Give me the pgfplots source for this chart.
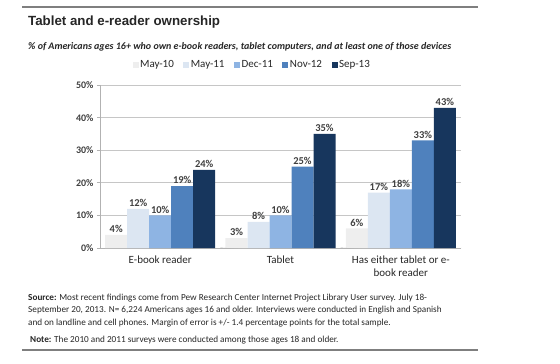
\documentclass[border=0pt]{standalone}
\usepackage{pgfplots}
\pgfplotsset{compat=1.18}
\usepackage{fontspec}
\setmainfont{Carlito}
\newfontfamily\arialfont{Liberation Sans}
\definecolor{c1}{HTML}{EEEEEE}
\definecolor{c2}{HTML}{DCE6F2}
\definecolor{c3}{HTML}{8EB4E3}
\definecolor{c4}{HTML}{4F81BD}
\definecolor{c5}{HTML}{17365D}
\definecolor{txt}{HTML}{404040}
\definecolor{rule}{HTML}{7F7F7F}
\begin{document}
\begin{tikzpicture}
\path[use as bounding box] (0,0) rectangle (560pt,-364pt);
\draw[rule, line width=1.2pt] (22pt,-7pt) -- (478pt,-7pt);
\draw[rule, line width=1.2pt] (22pt,-350pt) -- (478pt,-350pt);
\node[anchor=base west, inner sep=0, text=black!85] at (28pt,-25pt) {\arialfont\fontsize{13.3}{15}\selectfont\bfseries Tablet and e-reader ownership};
\node[anchor=base west, inner sep=0, text=black!85] at (28pt,-49pt) {\fontsize{10}{12}\selectfont\bfseries\itshape \% of Americans ages 16+ who own e-book readers, tablet computers, and at least one of those devices};
\begin{axis}[
  at={(100pt,-248pt)}, anchor=south west,
  scale only axis, width=361pt, height=163pt,
  ybar=0pt, bar width=22pt,
  xmin=-0.5, xmax=2.5, ymin=0, ymax=50,
  xtick={0,1,2},
  xticklabels={E-book reader, Tablet, {Has either tablet or e-\\book reader}},
  xticklabel style={align=center, font=\fontsize{11}{13.5}\selectfont, text=black!85, yshift=-1pt},
  ytick={0,10,20,30,40,50},
  yticklabel={\pgfmathprintnumber{\tick}\%},
  yticklabel style={font=\fontsize{10}{12}\selectfont\bfseries, text=txt},
  /pgf/number format/assume math mode=true,
  axis lines=left,
  axis line style={-, draw=gray!60, line width=0.8pt},
  ymajorgrids, grid style={draw=gray!45, line width=0.8pt},
  major tick length=3pt, tick align=outside,
  xtick style={draw=none},
  ytick style={draw=gray!60, line width=0.8pt},
  nodes near coords={\pgfmathprintnumber{\pgfplotspointmeta}\%},
  every node near coord/.append style={font=\fontsize{10.5}{12}\selectfont\bfseries, text=txt, inner sep=2pt},
  legend columns=5,
  legend style={at={(0.421,1.123)}, anchor=center, draw=none, fill=none,
    font=\fontsize{11}{13}\selectfont, text=black!85, inner sep=0pt,
    nodes={inner sep=1.5pt},
    /tikz/every even column/.append style={column sep=8pt}},
  legend image code/.code={\fill[#1] (0pt,-3pt) rectangle (6pt,3pt);},
]
\addplot[fill=c1, draw=none] coordinates {(0,4) (1,3) (2,6)};
\addplot[fill=c2, draw=none] coordinates {(0,12) (1,8) (2,17)};
\addplot[fill=c3, draw=none] coordinates {(0,10) (1,10) (2,18)};
\addplot[fill=c4, draw=none] coordinates {(0,19) (1,25) (2,33)};
\addplot[fill=c5, draw=none] coordinates {(0,24) (1,35) (2,43)};
\legend{May-10, May-11, Dec-11, Nov-12, Sep-13}
\draw[gray!60, line width=0.8pt] (axis cs:0.5,0) -- ++(0,-4pt);
\draw[gray!60, line width=0.8pt] (axis cs:1.5,0) -- ++(0,-4pt);
\draw[gray!60, line width=0.8pt] (axis cs:2.5,0) -- ++(0,-4pt);
\end{axis}
\node[anchor=base west, inner sep=0, align=left, text=black!85, font=\fontsize{9.2}{12.5}\selectfont] at (28pt,-325pt) {%
\textbf{Source:} Most recent findings come from Pew Research Center Internet Project Library User survey. July 18-\\
September 20, 2013. N= 6,224 Americans ages 16 and older. Interviews were conducted in English and Spanish\\
and on landline and cell phones. Margin of error is +/- 1.4 percentage points for the total sample.};
\node[anchor=base west, inner sep=0, text=black!85, font=\fontsize{9.2}{10}\selectfont] at (30pt,-342pt) {\textbf{Note:} The 2010 and 2011 surveys were conducted among those ages 18 and older.};
\end{tikzpicture}
\end{document}
